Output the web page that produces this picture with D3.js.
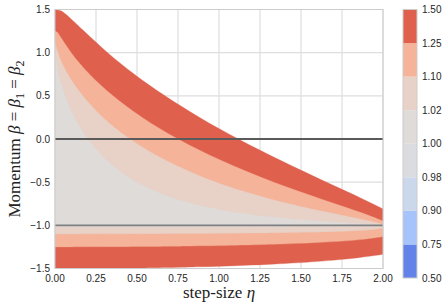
<!DOCTYPE html>
<html><head><meta charset="utf-8">
<script src="https://cdn.jsdelivr.net/npm/d3@7"></script>
<style>html,body{margin:0;padding:0;background:#fff;}svg{display:block;}</style>
</head><body>
<svg id="chart" width="448" height="307"></svg>
<script>
// ---- data ----
const xTicks = [0, 0.25, 0.5, 0.75, 1.0, 1.25, 1.5, 1.75, 2.0];
const yTicks = [-1.5, -1.0, -0.5, 0.0, 0.5, 1.0, 1.5];
const levelLabels = ["0.50","0.75","0.90","0.98","1.00","1.02","1.10","1.25","1.50"];
const bandColors = ["#6282ea","#a7c3fb","#cbd7ea","#dadcdf","#dfdbd9","#e8d1c6","#f5b399","#de604d"];
const refLines = [0.0, -1.0];

// contour boundaries: momentum beta vs step-size eta where the rate equals the level
const beta150 = [1.5,1.49,1.45,1.4,1.25,1.0,0.75,0.5,0.25,0,-0.25,-0.5,-0.6,-0.7,-0.8,-0.9,-1.0,-1.1,-1.2,-1.3,-1.35,-1.4,-1.42,-1.45,-1.47,-1.48,-1.49,-1.5];
const eta150  = [0,0.026,0.062,0.093,0.177,0.321,0.484,0.671,0.882,1.118,1.378,1.656,1.770,1.882,1.989,2.087,2.167,2.214,2.204,2.084,1.949,1.724,1.593,1.324,1.061,0.882,0.634,0];
const beta125 = [1.25,1.24,1.2,1.1,1.0,0.75,0.5,0.25,0,-0.25,-0.5,-0.6,-0.7,-0.8,-0.9,-0.95,-1.0,-1.05,-1.1,-1.15,-1.18,-1.2,-1.22,-1.24,-1.245,-1.25];
const eta125  = [0,0.011,0.028,0.062,0.099,0.211,0.354,0.532,0.750,1.015,1.334,1.478,1.630,1.786,1.935,2.000,2.050,2.074,2.051,1.933,1.774,1.600,1.327,0.823,0.593,0];
const beta110 = [1.1,1.09,1.05,1.0,0.75,0.5,0.25,0,-0.25,-0.5,-0.6,-0.7,-0.8,-0.9,-0.95,-0.98,-1.0,-1.01,-1.02,-1.03,-1.05,-1.07,-1.08,-1.09,-1.095,-1.1];
const eta110  = [0,0.003,0.010,0.018,0.079,0.170,0.293,0.458,0.679,0.983,1.140,1.324,1.542,1.793,1.919,1.982,2.009,2.015,2.014,2.002,1.929,1.731,1.532,1.182,0.875,0];
const beta102 = [1.02,1.0,0.9,0.8,0.65,0.5,0.25,0,-0.25,-0.4,-0.5,-0.6,-0.7,-0.8,-0.85,-0.9,-0.95,-0.98,-0.99,-1.0,-1.005,-1.01,-1.015,-1.018,-1.019,-1.0195,-1.02];
const eta102  = [0,0.001,0.007,0.016,0.036,0.061,0.119,0.201,0.318,0.416,0.499,0.605,0.748,0.955,1.103,1.307,1.611,1.864,1.949,2.000,1.984,1.894,1.609,1.156,0.856,0.620,0];

// ---- layout ----
const svg = d3.select("#chart");
const x = d3.scaleLinear().domain([0, 2]).range([55, 383]);
const y = d3.scaleLinear().domain([-1.5, 1.5]).range([268.5, 9.5]);

svg.append("defs").append("clipPath").attr("id","plotclip")
  .append("rect").attr("x",x(0)).attr("y",y(1.5)).attr("width",x(2)-x(0)).attr("height",y(-1.5)-y(1.5));

// grid
const grid = svg.append("g");
grid.selectAll("line.gx").data(xTicks).join("line")
  .attr("x1",d=>x(d)).attr("x2",d=>x(d)).attr("y1",y(1.5)).attr("y2",y(-1.5))
  .attr("stroke","#dedede").attr("stroke-width",1.2);
grid.selectAll("line.gy").data(yTicks).join("line")
  .attr("x1",x(0)).attr("x2",x(2)).attr("y1",d=>y(d)).attr("y2",d=>y(d))
  .attr("stroke","#dedede").attr("stroke-width",1.2);

// filled contour layers (painter's order, outermost first)
const layers = [
  {b: beta150, e: eta150, color: bandColors[7]},
  {b: beta125, e: eta125, color: bandColors[6]},
  {b: beta110, e: eta110, color: bandColors[5]},
  {b: beta102, e: eta102, color: bandColors[4]}
];
const area = d3.area().curve(d3.curveMonotoneY)
  .y(d => y(d[0])).x0(x(0)).x1(d => x(d[1]));
const fills = svg.append("g").attr("clip-path","url(#plotclip)");
layers.forEach(L => {
  const pts = L.b.map((bv,i) => [bv, L.e[i]]);
  fills.append("path").attr("d", area(pts)).attr("fill", L.color).attr("stroke", L.color).attr("stroke-width",0.3);
});

// reference lines
svg.selectAll("line.ref").data(refLines).join("line")
  .attr("x1",x(0)).attr("x2",x(2)).attr("y1",d=>y(d)).attr("y2",d=>y(d))
  .attr("stroke", d => d === 0 ? "#5a5a5a" : "#808080")
  .attr("stroke-width", 1.8);

// frame
svg.append("rect").attr("x",x(0)).attr("y",y(1.5)).attr("width",x(2)-x(0)).attr("height",y(-1.5)-y(1.5))
  .attr("fill","none").attr("stroke","#cccccc").attr("stroke-width",1);

// tick labels
const fmtY = d => d3.format(".1f")(d).replace("-","\u2212");
const fmtX = d => d3.format(".2f")(d);
svg.selectAll("text.yt").data(yTicks).join("text")
  .attr("x", x(0)-5).attr("y", d=>y(d)).attr("dy","0.35em")
  .attr("text-anchor","end").attr("font-family","Liberation Sans, Arial, sans-serif")
  .attr("font-size",10).attr("fill","#262626").text(fmtY);
svg.selectAll("text.xt").data(xTicks).join("text")
  .attr("x", d=>x(d)).attr("y", 282)
  .attr("text-anchor","middle").attr("font-family","Liberation Sans, Arial, sans-serif")
  .attr("font-size",10).attr("fill","#262626").text(fmtX);

// axis labels
const serif = "Liberation Serif, DejaVu Serif, serif";
const xl = svg.append("text").attr("x",(x(0)+x(2))/2).attr("y",298)
  .attr("text-anchor","middle").attr("font-family",serif).attr("font-size",17).attr("fill","#222");
xl.append("tspan").text("step-size ");
xl.append("tspan").attr("font-style","italic").text("η");

const yl = svg.append("text").attr("transform",`translate(20,${(y(1.5)+y(-1.5))/2}) rotate(-90)`)
  .attr("text-anchor","middle").attr("font-family",serif).attr("font-size",17).attr("fill","#222");
yl.append("tspan").text("Momentum ");
yl.append("tspan").attr("font-style","italic").text("β");
yl.append("tspan").text(" = ");
yl.append("tspan").attr("font-style","italic").text("β");
yl.append("tspan").attr("font-size",12).attr("dy",4).text("1");
yl.append("tspan").attr("dy",-4).text(" = ");
yl.append("tspan").attr("font-style","italic").text("β");
yl.append("tspan").attr("font-size",12).attr("dy",4).text("2");

// colorbar
const cb = d3.scalePoint().domain(levelLabels).range([278, 9.5]);
const cbx = 403, cbw = 14;
const cbg = svg.append("g");
cbg.selectAll("rect").data(bandColors).join("rect")
  .attr("x",cbx).attr("width",cbw)
  .attr("y",(d,i)=>cb(levelLabels[i+1]))
  .attr("height",(d,i)=>cb(levelLabels[i]) - cb(levelLabels[i+1]))
  .attr("fill",d=>d);
cbg.append("rect").attr("x",cbx).attr("y",cb(levelLabels[8])).attr("width",cbw)
  .attr("height",cb(levelLabels[0])-cb(levelLabels[8]))
  .attr("fill","none").attr("stroke","#cccccc").attr("stroke-width",1);
cbg.selectAll("text").data(levelLabels).join("text")
  .attr("x", cbx+cbw+5).attr("y", d=>cb(d)).attr("dy","0.35em")
  .attr("font-family","Liberation Sans, Arial, sans-serif").attr("font-size",10).attr("fill","#262626")
  .text(d=>d);
</script>
</body></html>
